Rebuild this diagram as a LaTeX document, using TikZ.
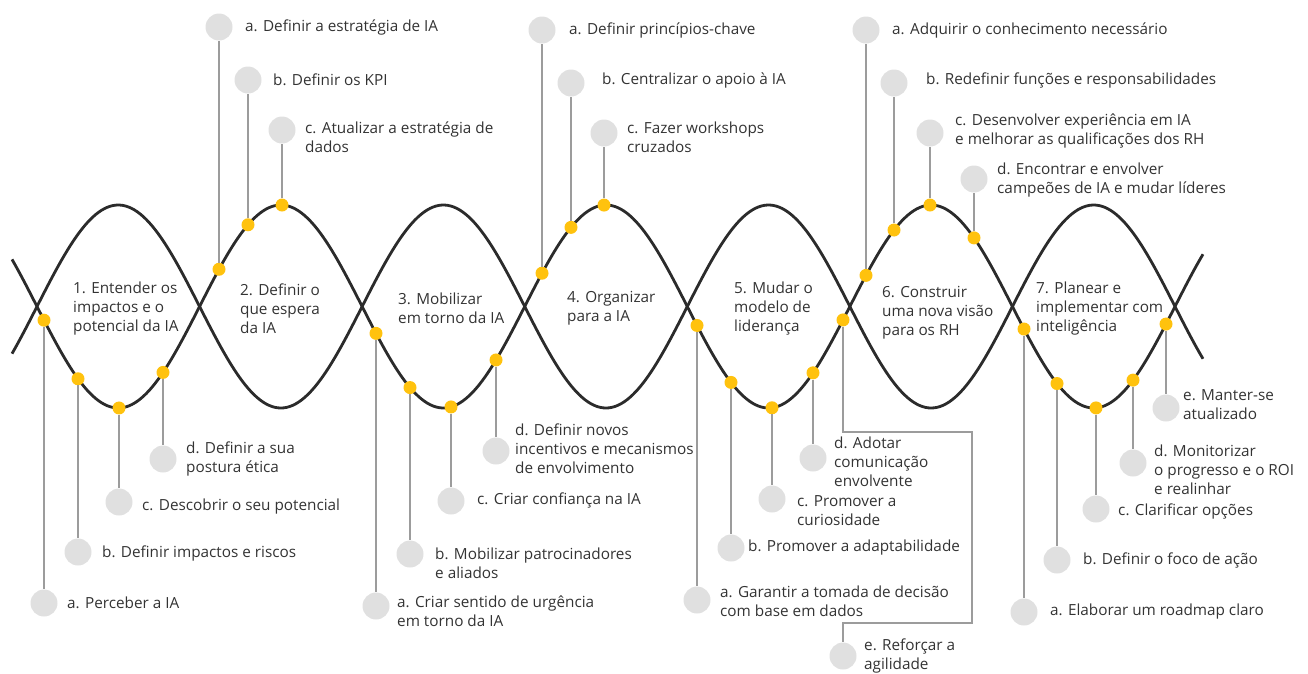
\documentclass[tikz,border=0pt]{standalone}
\usepackage{fontspec}
\setmainfont{Open Sans}
\definecolor{curvec}{HTML}{2B2B2B}
\definecolor{leadc}{HTML}{9C9C9C}
\definecolor{circc}{HTML}{E0E0E0}
\definecolor{goldc}{HTML}{FFC20E}
\definecolor{txtc}{HTML}{333333}
\newcommand{\stepitem}[6]{%
  \node[dotn] (d#1) at (#2,{wv(#2)}) {};
  \node[circn] (c#1) at (#2,#3) {};
  \node[lbl] (t#1) at (#4,#5) {#6};
  \draw[lead] (d#1) -- (c#1);
}
\begin{document}
\begin{tikzpicture}[x=1pt,y=-1pt,
  declare function={wv(\t)=306.5+101.5*sin(1.107215*(\t-37));},
  wave/.style={draw=curvec,line width=2.8pt},
  lead/.style={draw=leadc,line width=1.3pt},
  dotn/.style={circle,fill=goldc,minimum size=13pt,inner sep=0pt},
  circn/.style={circle,fill=circc,minimum size=27pt,inner sep=0pt},
  lbl/.style={anchor=west,inner sep=0pt,align=left,text=txtc,font=\fontsize{15.3}{19}\selectfont},
  phase/.style={lbl}]
\useasboundingbox (0,0) rectangle (1308,673);
\draw[wave] plot[domain=12:1203,samples=400,smooth] (\x,{wv(\x)});
\draw[wave] plot[domain=12:1203,samples=400,smooth] (\x,{613-wv(\x)});

% phase labels
\node[phase] (p1) at (73,309) {1. Entender os\\impactos e o\\potencial da IA};
\node[phase] (p2) at (240,309) {2. Definir o\\que espera\\da IA};
\node[phase] (p3) at (398,308.5) {3. Mobilizar\\em torno da IA};
\node[phase] (p4) at (567,308.5) {4. Organizar\\para a IA};
\node[phase] (p5) at (734,309) {5. Mudar o\\modelo de\\liderança};
\node[phase] (p6) at (882,313) {6. Construir\\uma nova visão\\para os RH};
\node[phase] (p7) at (1036,309) {7. Planear e\\implementar com\\inteligência};

% lobe 1
\stepitem{1a}{44}{603}{67}{603}{a. Perceber a IA}
\stepitem{1b}{78}{552}{102}{553}{b. Definir impactos e riscos}
\stepitem{1c}{119}{502}{142}{507}{c. Descobrir o seu potencial}
\stepitem{1d}{163}{459}{186}{458.5}{d. Definir a sua\\postura ética}
% lobe 2
\stepitem{2a}{219}{27}{245}{27}{a. Definir a estratégia de IA}
\stepitem{2b}{248}{80}{273}{80}{b. Definir os KPI}
\stepitem{2c}{282}{130}{305}{137.5}{c. Atualizar a estratégia de\\dados}
% lobe 3
\stepitem{3a}{376}{606}{397}{611}{a. Criar sentido de urgência\\em torno da IA}
\stepitem{3b}{410}{554}{435}{563.5}{b. Mobilizar patrocinadores\\e aliados}
\stepitem{3c}{451}{501}{477}{500}{c. Criar confiança na IA}
\stepitem{3d}{496}{451}{515}{448.5}{d. Definir novos\\incentivos e mecanismos\\de envolvimento}
% lobe 4
\stepitem{4a}{542}{30}{569}{30}{a. Definir princípios-chave}
\stepitem{4b}{571}{83}{602}{80}{b. Centralizar o apoio à IA}
\stepitem{4c}{604}{133}{627}{137.5}{c. Fazer workshops\\cruzados}
% lobe 5
\stepitem{5a}{697}{600}{720}{601}{a. Garantir a tomada de decisão\\com base em dados}
\stepitem{5b}{731}{548}{748}{548}{b. Promover a adaptabilidade}
\stepitem{5c}{772}{499}{797}{510.5}{c. Promover a\\curiosidade}
\stepitem{5d}{813}{458}{834}{462}{d. Adotar\\comunicação\\envolvente}
\node[dotn] (d5e) at (843,{wv(843)}) {};
\node[circn] (c5e) at (843,656) {};
\node[lbl] (t5e) at (864,656) {e. Reforçar a\\agilidade};
\coordinate (k5a) at (972,432);
\coordinate (k5b) at (972,623);
\draw[lead] (d5e) |- (k5a) -- (k5b) -| (c5e);
% lobe 6
\stepitem{6a}{866}{30}{892}{30}{a. Adquirir o conhecimento necessário}
\stepitem{6b}{894}{83}{926}{80}{b. Redefinir funções e responsabilidades}
\stepitem{6c}{930}{133}{955}{131}{c. Desenvolver experiência em IA\\e melhorar as qualificações dos RH}
\stepitem{6d}{974}{179}{997}{180}{d. Encontrar e envolver\\campeões de IA e mudar líderes}
% lobe 7
\stepitem{7a}{1024}{612}{1050}{612}{a. Elaborar um roadmap claro}
\stepitem{7b}{1057}{560}{1083}{560}{b. Definir o foco de ação}
\stepitem{7c}{1096}{509}{1118}{511}{c. Clarificar opções}
\stepitem{7d}{1133}{463}{1154}{469.5}{d. Monitorizar\\o progresso e o ROI\\e realinhar}
\stepitem{7e}{1166}{408}{1183}{405}{e. Manter-se\\atualizado}
\end{tikzpicture}
\end{document}
